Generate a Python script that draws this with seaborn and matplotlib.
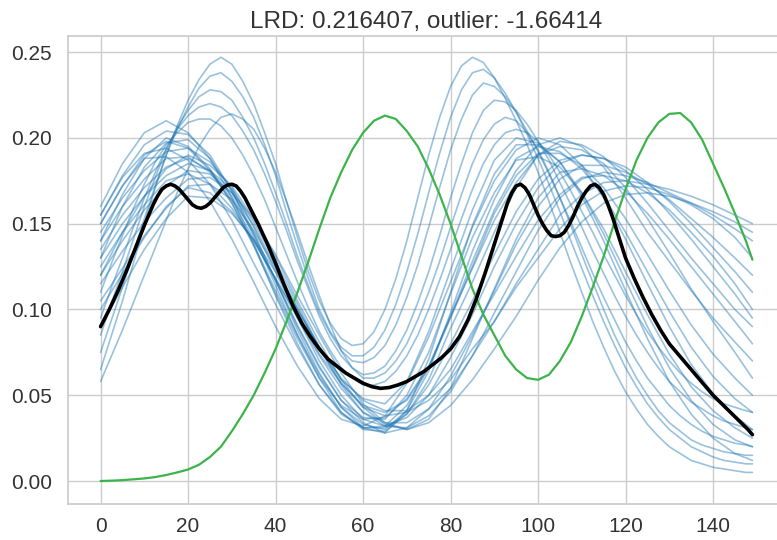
import pandas as pd
import seaborn as sns
import matplotlib.pyplot as plt

# x grids of the blue curves (the tall curves are read more finely)
XS_FINE = [i * 2.5 for i in range(60)] + [149]
XS = [0, 5, 10, 15, 20, 25, 30, 35, 40, 45, 50, 55, 60, 65, 70, 75,
      80, 85, 90, 95, 100, 105, 110, 115, 120, 125, 130, 135, 140, 145, 149]

# tall, narrow blue curves (peaks near 25 and 85)
TALL_CURVES = [
    [0.065, 0.085, 0.105, 0.127, 0.150, 0.171, 0.190, 0.207, 0.222, 0.234, 0.243, 0.247, 0.243, 0.233, 0.220, 0.203,
     0.185, 0.163, 0.142, 0.122, 0.105, 0.092, 0.083, 0.079, 0.080, 0.087, 0.100, 0.118, 0.140, 0.165, 0.190, 0.212,
     0.230, 0.242, 0.247, 0.244, 0.235, 0.223, 0.210, 0.196, 0.180, 0.163, 0.145, 0.127, 0.110, 0.093, 0.078, 0.064,
     0.052, 0.042, 0.033, 0.026, 0.020, 0.016, 0.012, 0.010, 0.008, 0.007, 0.006, 0.005, 0.005],
    [0.075, 0.094, 0.113, 0.133, 0.153, 0.172, 0.190, 0.205, 0.218, 0.229, 0.236, 0.238, 0.233, 0.224, 0.212, 0.196,
     0.178, 0.157, 0.137, 0.118, 0.100, 0.087, 0.078, 0.073, 0.073, 0.078, 0.088, 0.103, 0.122, 0.144, 0.168, 0.191,
     0.212, 0.228, 0.238, 0.240, 0.235, 0.226, 0.215, 0.202, 0.188, 0.173, 0.157, 0.140, 0.124, 0.108, 0.093, 0.079,
     0.066, 0.055, 0.045, 0.037, 0.030, 0.025, 0.020, 0.017, 0.014, 0.012, 0.011, 0.010, 0.010],
    [0.085, 0.104, 0.122, 0.141, 0.160, 0.177, 0.193, 0.206, 0.216, 0.224, 0.228, 0.227, 0.222, 0.212, 0.200, 0.185,
     0.168, 0.150, 0.131, 0.114, 0.098, 0.086, 0.076, 0.070, 0.069, 0.072, 0.079, 0.091, 0.107, 0.126, 0.148, 0.171,
     0.193, 0.211, 0.225, 0.232, 0.230, 0.224, 0.215, 0.204, 0.192, 0.179, 0.165, 0.151, 0.136, 0.121, 0.107, 0.094,
     0.081, 0.070, 0.060, 0.052, 0.044, 0.038, 0.033, 0.029, 0.026, 0.024, 0.022, 0.021, 0.020],
    [0.095, 0.113, 0.130, 0.148, 0.165, 0.180, 0.194, 0.205, 0.213, 0.218, 0.220, 0.218, 0.213, 0.204, 0.193, 0.179,
     0.163, 0.146, 0.128, 0.112, 0.096, 0.083, 0.073, 0.066, 0.062, 0.063, 0.067, 0.076, 0.088, 0.104, 0.122, 0.143,
     0.165, 0.185, 0.203, 0.216, 0.222, 0.221, 0.216, 0.208, 0.198, 0.187, 0.174, 0.161, 0.148, 0.134, 0.121, 0.108,
     0.096, 0.085, 0.075, 0.066, 0.058, 0.052, 0.046, 0.042, 0.038, 0.035, 0.033, 0.031, 0.030],
    [0.058, 0.073, 0.088, 0.104, 0.120, 0.136, 0.152, 0.168, 0.182, 0.195, 0.205, 0.212, 0.214, 0.211, 0.205, 0.194,
     0.180, 0.163, 0.145, 0.126, 0.108, 0.091, 0.076, 0.066, 0.060, 0.060, 0.063, 0.070, 0.080, 0.094, 0.110, 0.128,
     0.148, 0.167, 0.185, 0.199, 0.208, 0.212, 0.210, 0.203, 0.193, 0.180, 0.165, 0.149, 0.132, 0.116, 0.100, 0.085,
     0.072, 0.060, 0.050, 0.041, 0.034, 0.029, 0.024, 0.021, 0.019, 0.017, 0.016, 0.015, 0.015],
    [0.110, 0.127, 0.143, 0.159, 0.173, 0.186, 0.196, 0.203, 0.209, 0.211, 0.211, 0.207, 0.200, 0.190, 0.178, 0.164,
     0.148, 0.132, 0.116, 0.101, 0.087, 0.076, 0.066, 0.060, 0.056, 0.056, 0.058, 0.064, 0.073, 0.085, 0.100, 0.117,
     0.135, 0.153, 0.170, 0.185, 0.196, 0.203, 0.205, 0.203, 0.198, 0.190, 0.180, 0.169, 0.157, 0.145, 0.132, 0.120,
     0.108, 0.097, 0.087, 0.078, 0.070, 0.063, 0.057, 0.052, 0.048, 0.045, 0.043, 0.041, 0.040],
]

# broad blue curves (first peak 12-22, second peak 95-122)
BROAD_CURVES = [
    [0.160, 0.185, 0.203, 0.210, 0.203, 0.188, 0.165, 0.138, 0.108, 0.080, 0.056, 0.039, 0.031, 0.032, 0.044, 0.066,
     0.096, 0.128, 0.158, 0.181, 0.196, 0.200, 0.195, 0.183, 0.165, 0.145, 0.128, 0.111, 0.095, 0.081, 0.070],
    [0.155, 0.178, 0.196, 0.204, 0.202, 0.190, 0.169, 0.143, 0.114, 0.085, 0.060, 0.040, 0.030, 0.029, 0.039, 0.059,
     0.089, 0.116, 0.145, 0.171, 0.190, 0.198, 0.196, 0.189, 0.177, 0.162, 0.146, 0.130, 0.115, 0.100, 0.090],
    [0.150, 0.172, 0.190, 0.198, 0.194, 0.181, 0.162, 0.138, 0.111, 0.085, 0.062, 0.043, 0.033, 0.030, 0.041, 0.064,
     0.098, 0.134, 0.164, 0.188, 0.195, 0.192, 0.182, 0.166, 0.145, 0.122, 0.099, 0.078, 0.061, 0.048, 0.040],
    [0.145, 0.165, 0.181, 0.192, 0.194, 0.186, 0.171, 0.148, 0.122, 0.095, 0.070, 0.050, 0.036, 0.032, 0.037, 0.050,
     0.072, 0.097, 0.125, 0.150, 0.171, 0.185, 0.190, 0.188, 0.183, 0.174, 0.163, 0.150, 0.136, 0.122, 0.110],
    [0.140, 0.160, 0.176, 0.188, 0.189, 0.180, 0.164, 0.141, 0.117, 0.091, 0.067, 0.047, 0.034, 0.028, 0.031, 0.042,
     0.061, 0.085, 0.111, 0.138, 0.160, 0.176, 0.184, 0.184, 0.180, 0.173, 0.164, 0.153, 0.142, 0.130, 0.120],
    [0.135, 0.155, 0.171, 0.183, 0.188, 0.181, 0.166, 0.144, 0.117, 0.090, 0.066, 0.047, 0.037, 0.036, 0.050, 0.075,
     0.109, 0.142, 0.168, 0.187, 0.189, 0.183, 0.168, 0.147, 0.122, 0.097, 0.074, 0.055, 0.041, 0.031, 0.025],
    [0.130, 0.150, 0.166, 0.178, 0.185, 0.181, 0.170, 0.151, 0.128, 0.103, 0.078, 0.056, 0.040, 0.032, 0.031, 0.038,
     0.052, 0.073, 0.098, 0.122, 0.146, 0.165, 0.176, 0.180, 0.178, 0.174, 0.168, 0.162, 0.155, 0.147, 0.140],
    [0.125, 0.145, 0.161, 0.175, 0.179, 0.173, 0.159, 0.140, 0.118, 0.095, 0.073, 0.054, 0.040, 0.034, 0.034, 0.042,
     0.054, 0.073, 0.093, 0.115, 0.135, 0.155, 0.167, 0.174, 0.175, 0.173, 0.170, 0.166, 0.161, 0.155, 0.150],
    [0.120, 0.140, 0.158, 0.172, 0.181, 0.179, 0.168, 0.149, 0.125, 0.101, 0.077, 0.057, 0.044, 0.040, 0.047, 0.066,
     0.095, 0.125, 0.156, 0.178, 0.191, 0.191, 0.184, 0.171, 0.153, 0.132, 0.111, 0.091, 0.074, 0.060, 0.050],
    [0.115, 0.134, 0.151, 0.165, 0.176, 0.177, 0.168, 0.153, 0.132, 0.108, 0.085, 0.063, 0.045, 0.034, 0.030, 0.036,
     0.054, 0.083, 0.112, 0.141, 0.165, 0.180, 0.182, 0.178, 0.169, 0.156, 0.141, 0.125, 0.109, 0.093, 0.080],
    [0.105, 0.124, 0.143, 0.159, 0.172, 0.173, 0.164, 0.146, 0.124, 0.100, 0.078, 0.059, 0.048, 0.045, 0.058, 0.087,
     0.123, 0.158, 0.187, 0.200, 0.197, 0.186, 0.166, 0.140, 0.111, 0.083, 0.058, 0.039, 0.025, 0.016, 0.012],
    [0.100, 0.121, 0.142, 0.160, 0.171, 0.168, 0.157, 0.140, 0.118, 0.096, 0.074, 0.057, 0.043, 0.038, 0.040, 0.047,
     0.059, 0.077, 0.093, 0.113, 0.130, 0.147, 0.161, 0.169, 0.172, 0.171, 0.167, 0.161, 0.153, 0.142, 0.130],
    [0.150, 0.172, 0.188, 0.189, 0.180, 0.163, 0.141, 0.116, 0.090, 0.067, 0.048, 0.036, 0.032, 0.038, 0.057, 0.084,
     0.116, 0.148, 0.175, 0.193, 0.200, 0.196, 0.184, 0.165, 0.141, 0.115, 0.090, 0.068, 0.051, 0.038, 0.030],
    [0.140, 0.167, 0.188, 0.200, 0.195, 0.182, 0.162, 0.137, 0.109, 0.083, 0.060, 0.044, 0.036, 0.037, 0.048, 0.067,
     0.096, 0.124, 0.152, 0.174, 0.190, 0.195, 0.193, 0.185, 0.171, 0.153, 0.133, 0.112, 0.093, 0.075, 0.060],
    [0.090, 0.113, 0.135, 0.153, 0.166, 0.165, 0.156, 0.141, 0.122, 0.100, 0.078, 0.060, 0.047, 0.041, 0.041, 0.050,
     0.065, 0.087, 0.109, 0.131, 0.152, 0.167, 0.177, 0.178, 0.175, 0.168, 0.158, 0.145, 0.131, 0.115, 0.100],
    [0.155, 0.177, 0.191, 0.194, 0.187, 0.173, 0.152, 0.127, 0.103, 0.078, 0.056, 0.040, 0.031, 0.031, 0.039, 0.056,
     0.080, 0.105, 0.132, 0.157, 0.176, 0.187, 0.190, 0.188, 0.181, 0.170, 0.156, 0.141, 0.125, 0.109, 0.095],
    [0.130, 0.160, 0.183, 0.197, 0.199, 0.188, 0.169, 0.145, 0.117, 0.088, 0.063, 0.043, 0.031, 0.028, 0.041, 0.071,
     0.110, 0.149, 0.179, 0.196, 0.196, 0.186, 0.168, 0.144, 0.117, 0.090, 0.066, 0.047, 0.033, 0.024, 0.020],
    [0.120, 0.145, 0.166, 0.182, 0.190, 0.184, 0.172, 0.153, 0.131, 0.105, 0.081, 0.059, 0.043, 0.033, 0.030, 0.034,
     0.044, 0.059, 0.077, 0.096, 0.117, 0.136, 0.151, 0.162, 0.167, 0.168, 0.166, 0.162, 0.157, 0.151, 0.145],
]

# the outlier (green)
GREEN_X = [i * 2.5 for i in range(60)] + [149]
GREEN_Y = [0.000, 0.0002, 0.0005, 0.001, 0.0015, 0.0023, 0.0035, 0.005, 0.0067, 0.0095, 0.014, 0.020, 0.029,
           0.039, 0.050, 0.063, 0.077, 0.093, 0.110, 0.128, 0.147, 0.165, 0.180, 0.193, 0.203, 0.210, 0.213,
           0.211, 0.204, 0.195, 0.182, 0.167, 0.150, 0.131, 0.112, 0.097, 0.085, 0.073, 0.065, 0.060, 0.059,
           0.062, 0.070, 0.081, 0.096, 0.113, 0.131, 0.151, 0.170, 0.187, 0.200, 0.209, 0.214, 0.2145, 0.209,
           0.199, 0.185, 0.171, 0.156, 0.140, 0.129]

# black reference curve
BLACK_X = [0, 2, 4, 6, 8, 10, 12, 13, 14, 15, 16, 17, 18, 19, 20, 21, 22, 23, 24, 25, 26, 27, 28, 29, 30,
           31, 32, 33, 34, 35, 36, 38, 40, 42, 44, 46, 48, 50, 52, 54, 56, 58, 60, 62, 64, 66, 68, 70, 72,
           74, 76, 78, 80, 82, 84, 86, 88, 90, 91, 92, 93, 94, 95, 96, 97, 98, 99, 100, 101, 102, 103, 104,
           105, 106, 107, 108, 109, 110, 111, 112, 113, 114, 115, 116, 117, 118, 120, 122, 124, 126, 128,
           130, 132, 134, 136, 138, 140, 142, 144, 146, 148, 149]
BLACK_Y = [0.090, 0.100, 0.111, 0.123, 0.136, 0.149, 0.161, 0.166, 0.170, 0.172, 0.173, 0.172, 0.170, 0.167,
           0.164, 0.161, 0.1595, 0.159, 0.160, 0.162, 0.165, 0.168, 0.171, 0.1725, 0.173, 0.172, 0.169, 0.165,
           0.160, 0.155, 0.150, 0.139, 0.127, 0.114, 0.102, 0.092, 0.084, 0.077, 0.071, 0.067, 0.063, 0.060,
           0.057, 0.055, 0.054, 0.0545, 0.056, 0.058, 0.061, 0.064, 0.068, 0.072, 0.077, 0.084, 0.094, 0.107,
           0.122, 0.138, 0.146, 0.154, 0.162, 0.168, 0.172, 0.173, 0.171, 0.167, 0.161, 0.155, 0.150, 0.146,
           0.143, 0.1425, 0.143, 0.145, 0.149, 0.154, 0.160, 0.165, 0.169, 0.172, 0.173, 0.171, 0.167, 0.161,
           0.154, 0.146, 0.130, 0.118, 0.107, 0.097, 0.088, 0.080, 0.074, 0.068, 0.062, 0.056, 0.050, 0.045,
           0.040, 0.035, 0.030, 0.027]

TITLE = "LRD: 0.216407, outlier: -1.66414"

rows = []
curve_id = 0
for grid, curves in [(XS_FINE, TALL_CURVES), (XS, BROAD_CURVES)]:
    for curve in curves:
        assert len(curve) == len(grid), curve_id
        for x, y in zip(grid, curve):
            rows.append([curve_id, x, y])
        curve_id += 1
blue_df = pd.DataFrame(rows, columns=["curve", "x", "y"])
assert len(GREEN_X) == len(GREEN_Y) and len(BLACK_X) == len(BLACK_Y)

sns.set_theme(style="whitegrid")
plt.rcParams["font.family"] = ["Liberation Sans", "DejaVu Sans"]

fig = plt.figure(figsize=(7.77, 5.4), dpi=100)
ax = fig.add_axes([68 / 777, 36 / 540, (785 - 68) / 777, (504 - 36) / 540])

sns.lineplot(data=blue_df, x="x", y="y", units="curve", estimator=None,
             color="#1f77b4", alpha=0.45, lw=1.2, ax=ax, legend=False)
sns.lineplot(x=GREEN_X, y=GREEN_Y, color="#3cb44b", lw=1.6, ax=ax)
sns.lineplot(x=BLACK_X, y=BLACK_Y, color="black", lw=2.6, ax=ax)

ax.set_xlim(-7.45, 156.45)
ax.set_ylim(-0.0134, 0.2594)
ax.set_xticks(range(0, 141, 20))
yt = [0.0, 0.05, 0.10, 0.15, 0.20, 0.25]
ax.set_yticks(yt)
ax.set_yticklabels([f"{v:.2f}" for v in yt])
ax.set_xlabel("")
ax.set_ylabel("")
ax.tick_params(labelsize=15, length=0, labelcolor="#333333")
ax.tick_params(axis="y", pad=11.5)
ax.tick_params(axis="x", pad=9)
ax.set_title(TITLE, fontsize=17.5, color="#333333")

fig.savefig("out.png", dpi=100)
